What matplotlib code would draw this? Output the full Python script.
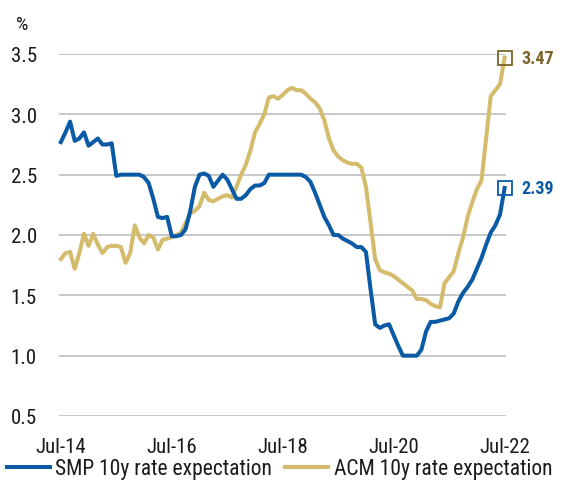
import matplotlib
matplotlib.use('Agg')
import matplotlib.pyplot as plt
from matplotlib import font_manager

# pick a narrow font if one is installed
names = set(f.name for f in font_manager.fontManager.ttflist)
fams = [f for f in ['Roboto Condensed', 'Liberation Sans Narrow', 'Roboto'] if f in names]
plt.rcParams['font.family'] = fams + ['DejaVu Sans']

# monthly values, Jul-14 .. Jul-22
smp = [2.77, 2.85, 2.94, 2.78, 2.80, 2.85, 2.74, 2.77, 2.80, 2.75, 2.75, 2.76,
       2.49, 2.50, 2.50, 2.50, 2.50, 2.50, 2.48, 2.43, 2.30, 2.15, 2.14, 2.15,
       1.99, 1.99, 2.00, 2.05, 2.20, 2.40, 2.50, 2.51, 2.49, 2.40, 2.45, 2.50,
       2.46, 2.38, 2.30, 2.30, 2.33, 2.38, 2.41, 2.41, 2.43, 2.50, 2.50, 2.50,
       2.50, 2.50, 2.50, 2.50, 2.50, 2.48, 2.44, 2.35, 2.25, 2.15, 2.08, 2.00,
       2.00, 1.97, 1.95, 1.93, 1.90, 1.90, 1.86, 1.55, 1.26, 1.23, 1.25, 1.26,
       1.17, 1.08, 1.00, 1.00, 1.00, 1.00, 1.05, 1.20, 1.28, 1.28, 1.29, 1.30,
       1.31, 1.35, 1.45, 1.52, 1.57, 1.63, 1.72, 1.81, 1.92, 2.02, 2.08, 2.17,
       2.39]
acm = [1.80, 1.85, 1.86, 1.72, 1.85, 2.01, 1.91, 2.01, 1.92, 1.85, 1.90, 1.91,
       1.91, 1.90, 1.77, 1.85, 2.08, 1.98, 1.93, 2.00, 1.98, 1.88, 1.96, 1.97,
       1.98, 2.00, 2.02, 2.10, 2.18, 2.20, 2.24, 2.35, 2.29, 2.28, 2.30, 2.32,
       2.33, 2.31, 2.40, 2.50, 2.58, 2.70, 2.85, 2.92, 3.00, 3.14, 3.15, 3.13,
       3.16, 3.20, 3.22, 3.20, 3.20, 3.17, 3.13, 3.10, 3.05, 2.95, 2.80, 2.70,
       2.65, 2.62, 2.60, 2.59, 2.59, 2.56, 2.40, 2.10, 1.80, 1.71, 1.69, 1.68,
       1.66, 1.63, 1.60, 1.57, 1.54, 1.47, 1.47, 1.46, 1.43, 1.41, 1.40, 1.60,
       1.65, 1.70, 1.85, 1.98, 2.15, 2.27, 2.38, 2.45, 2.80, 3.15, 3.20, 3.25,
       3.47]
tick_pos = [0, 24, 48, 72, 96]
tick_labels = ['Jul-14', 'Jul-16', 'Jul-18', 'Jul-20', 'Jul-22']
yticks = [0.5, 1.0, 1.5, 2.0, 2.5, 3.0, 3.5]

blue = '#0A5AA5'
gold = '#D5BC6C'
dark_gold = '#7A6328'

fig = plt.figure(figsize=(5.62, 4.81), dpi=100)
ax = fig.add_axes([59/562, 1 - 417/481, (506-59)/562, (417-55)/481])
x = list(range(len(smp)))
ax.plot(x, smp, color=blue, lw=2.9, solid_joinstyle='round', clip_on=False,
        label='SMP 10y rate expectation', zorder=3)
ax.plot(x, acm, color=gold, lw=2.9, solid_joinstyle='round', clip_on=False,
        label='ACM 10y rate expectation', zorder=2)

ax.plot(x[-1], smp[-1], marker='s', ms=10, mfc='none', mec=blue, mew=1.3, clip_on=False)
ax.plot(x[-1], acm[-1], marker='s', ms=10, mfc='none', mec=dark_gold, mew=1.3, clip_on=False)
ax.annotate('%.2f' % smp[-1], (x[-1], smp[-1]), xytext=(12, 0), textcoords='offset points',
            color=blue, fontsize=13, fontweight='bold', va='center', annotation_clip=False)
ax.annotate('%.2f' % acm[-1], (x[-1], acm[-1]), xytext=(12, 0), textcoords='offset points',
            color=dark_gold, fontsize=13, fontweight='bold', va='center', annotation_clip=False)

ax.set_xlim(-0.4, 96.3)
ax.set_ylim(0.5, 3.5)
ax.set_yticks(yticks)
ax.set_yticklabels(['%.1f' % v for v in yticks])
ax.set_xticks(tick_pos)
ax.set_xticklabels(tick_labels)
ax.grid(axis='y', color='#C4C4C4', lw=1.3)
ax.set_axisbelow(True)
for s in ax.spines.values():
    s.set_visible(False)
ax.tick_params(length=0, labelsize=15, colors='#1a1a1a')
ax.tick_params(axis='y', pad=16)
ax.tick_params(axis='x', pad=15)

fig.text(22/562, 1 - 25/481, '%', fontsize=14, ha='center', va='center', color='#1a1a1a')

ax.legend(loc='center left', bbox_to_anchor=((7-59)/447, (417-470)/362), ncol=2, frameon=False,
          fontsize=15.5, handlelength=2.0, handletextpad=0.25, columnspacing=0.6,
          borderaxespad=0, borderpad=0, labelcolor='#1a1a1a')

fig.savefig('out.png', dpi=100)
